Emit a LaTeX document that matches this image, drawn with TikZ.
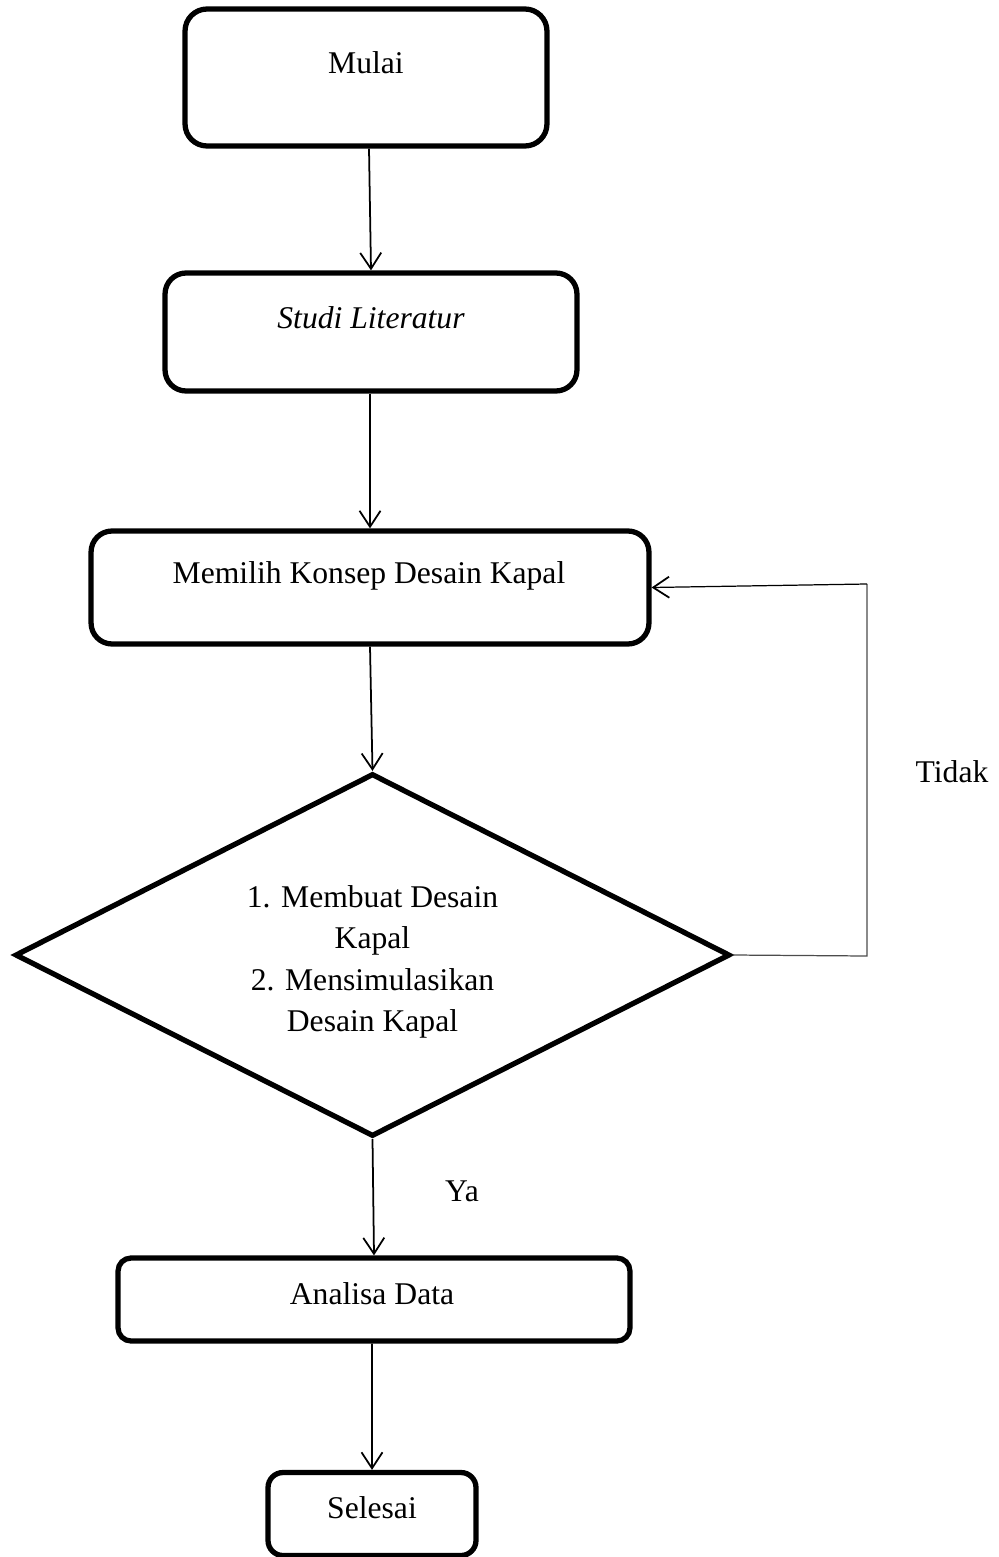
\documentclass[tikz,border=0pt]{standalone}
\usepackage{fontspec}
\setmainfont{Liberation Serif}
\usetikzlibrary{shapes.geometric,arrows.meta}
\begin{document}
\begin{tikzpicture}[x=0.02cm,y=-0.02cm,
  box/.style={draw=black,line width=3pt,rectangle,inner sep=0pt},
  dec/.style={draw=black,line width=3pt,diamond,inner sep=0pt},
  txt/.style={font=\fontsize{18}{23.6}\selectfont,inner sep=0pt,anchor=base},
  arr/.style={line width=1pt,-{Straight Barb[length=0.32cm,width=0.42cm,line width=1pt]}},
  fb/.style={line width=0.7pt,draw=black!70}]
\useasboundingbox (0,0) rectangle (998,1557);
% boxes
\node[box,rounded corners=0.44cm,minimum width=7.24cm,minimum height=2.74cm] (mulai) at (366,77.5) {};
\node[box,rounded corners=0.42cm,minimum width=8.24cm,minimum height=2.36cm] (studi) at (371,332) {};
\node[box,rounded corners=0.42cm,minimum width=11.16cm,minimum height=2.26cm] (memilih) at (370,587.5) {};
\node[dec,minimum width=14.3cm,minimum height=7.26cm] (dia) at (372.5,955) {};
\node[box,rounded corners=0.26cm,minimum width=10.24cm,minimum height=1.66cm] (analisa) at (374,1299.5) {};
\node[box,rounded corners=0.3cm,minimum width=4.16cm,minimum height=1.66cm] (selesai) at (372,1514) {};
% texts
\node[txt] (tmulai) at (366,74) {Mulai};
\node[txt] (tstudi) at (371,329) {\itshape Studi Literatur};
\node[txt] (tmemilih) at (369,583) {Memilih Konsep Desain Kapal};
\node[font=\fontsize{18}{23.6}\selectfont,inner sep=0pt,align=center] (tdia) at (372.5,962) {1. Membuat Desain\\Kapal\\2. Mensimulasikan\\Desain Kapal};
\node[txt] (tanalisa) at (372,1304) {Analisa Data};
\node[txt] (tselesai) at (372,1518) {Selesai};
\node[txt] (tidak) at (952,782) {Tidak};
\node[txt] (ya) at (462,1201) {Ya};
% connectors
\draw[arr] ([xshift=0.06cm]mulai.south) -- (studi.north);
\draw[arr] ([xshift=-0.02cm]studi.south) -- (memilih.north);
\draw[arr] (memilih.south) -- (dia.north);
\draw[arr] (dia.south) -- (analisa.north);
\draw[arr] ([xshift=-0.04cm]analisa.south) -- (selesai.north);
\coordinate (c1) at (867,956);
\coordinate (c2) at (867,584);
\draw[fb] (dia.east) -- (c1) -- (c2);
\draw[fb,-{Straight Barb[length=0.32cm,width=0.42cm,line width=1pt]},draw=black] (c2) -- (memilih.east);
\end{tikzpicture}
\end{document}
